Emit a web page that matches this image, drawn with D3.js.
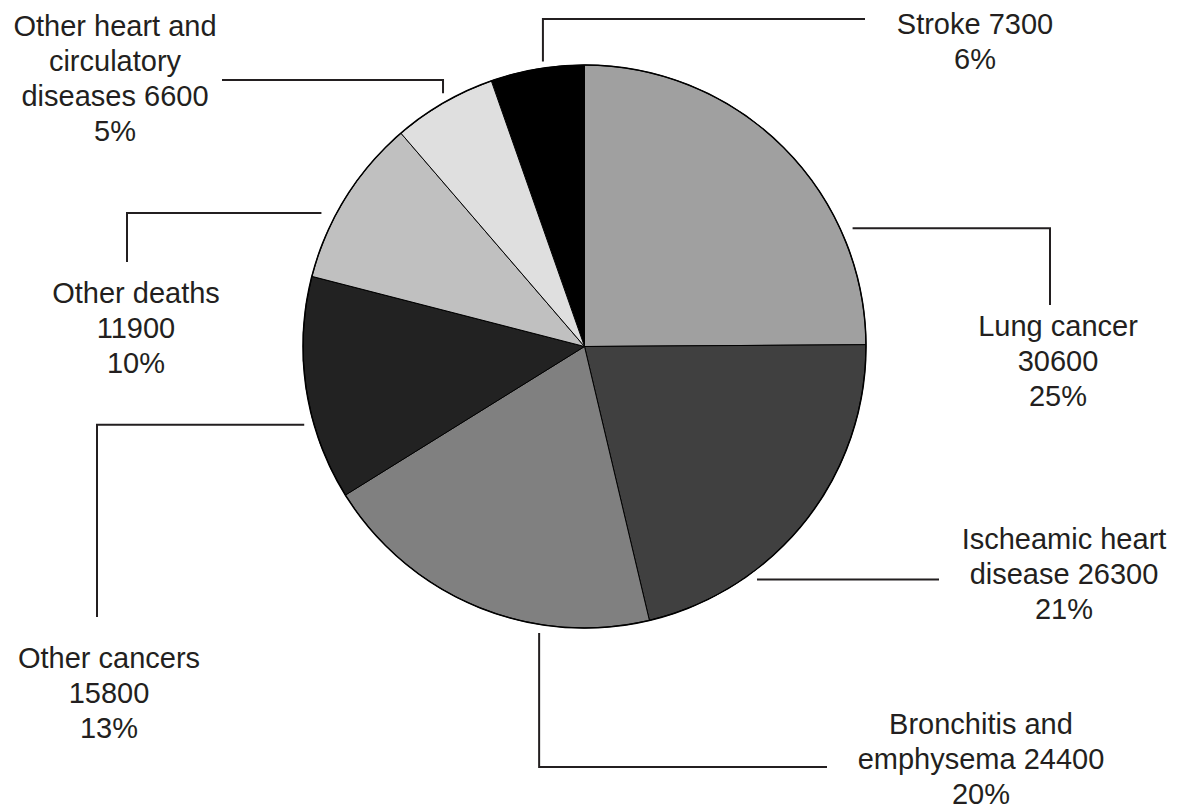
<!DOCTYPE html>
<html>
<head>
<meta charset="utf-8">
<script src="https://cdn.jsdelivr.net/npm/d3@7"></script>
<style>
  html, body { margin: 0; padding: 0; background: #ffffff; }
  svg { display: block; }
  text { font-family: "Liberation Sans", Arial, Helvetica, sans-serif; }
</style>
</head>
<body>
<svg id="chart" width="1180" height="810"></svg>
<script>
// ---- data ----
const categories = [
  "Lung cancer",
  "Ischeamic heart disease",
  "Bronchitis and emphysema",
  "Other cancers",
  "Other deaths",
  "Other heart and circulatory diseases",
  "Stroke"
];
const values = [30600, 26300, 24400, 15800, 11900, 6600, 7300];
// label text lines (the number and percentage are appended from the data)
const labelLines = [
  ["Lung cancer", "{v}", "{p}"],
  ["Ischeamic heart", "disease {v}", "{p}"],
  ["Bronchitis and", "emphysema {v}", "{p}"],
  ["Other cancers", "{v}", "{p}"],
  ["Other deaths", "{v}", "{p}"],
  ["Other heart and", "circulatory", "diseases {v}", "{p}"],
  ["Stroke {v}", "{p}"]
];
// slice fills in clockwise order from 12 o'clock
const sliceFills = ["#a0a0a0", "#404040", "#808080", "#222222", "#c0c0c0", "#dfdfdf", "#000000"];

// ---- layout (positions only) ----
const cx = 584.5, cy = 346.5, R = 281.5;
const FONT = 29, LINE = 35;
// leader: start angle (deg, clockwise from 12 o'clock), start radius,
// kind: 'v' = vertical then horizontal, 'h' = horizontal then vertical
const leaders = [
  { a: 66.2,  r: 293, kind: "h", turn: 1050, end: 305 },
  { a: 143.5, r: 290, kind: "h", turn: 939,  end: null },
  { a: 189.0, r: 290, kind: "v", turn: 767,  end: 827 },
  { a: 254.4, r: 291, kind: "h", turn: 97,   end: 617 },
  { a: 296.9, r: 295, kind: "h", turn: 127,  end: 262 },
  { a: 330.8, r: 290, kind: "v", turn: 80,   end: 222 },
  { a: 351.7, r: 288, kind: "v", turn: 19,   end: 865 }
];
const labelPos = [
  { x: 1058, y: 336 },
  { x: 1064, y: 549 },
  { x: 981,  y: 734 },
  { x: 109,  y: 668 },
  { x: 136,  y: 303 },
  { x: 115,  y: 36 },
  { x: 975,  y: 34 }
];

const total = d3.sum(values);
const fmtPct = v => Math.round(v / total * 100) + "%";

const svg = d3.select("#chart");
const g = svg.append("g").attr("transform", `translate(${cx},${cy})`);

const pie = d3.pie().value(d => d);   // default: slices ordered by descending value
const arcs = pie(values);
const order = arcs.map((a, i) => i).sort((i, j) => arcs[i].startAngle - arcs[j].startAngle);
const rank = new Array(values.length);
order.forEach((idx, k) => rank[idx] = k);

const arcGen = d3.arc().innerRadius(0).outerRadius(R);

g.selectAll("path.slice")
  .data(arcs)
  .join("path")
  .attr("class", "slice")
  .attr("d", arcGen)
  .attr("fill", (d, i) => sliceFills[rank[i]])
  .attr("stroke", "#000")
  .attr("stroke-width", 1)
  .attr("stroke-linejoin", "round");

g.append("circle")
  .attr("r", R)
  .attr("fill", "none")
  .attr("stroke", "#000")
  .attr("stroke-width", 1.5);

// leader lines
const lineGen = d3.line();
leaders.forEach((L, i) => {
  const p = d3.pointRadial(L.a * Math.PI / 180, L.r);
  const sx = cx + p[0], sy = cy + p[1];
  let pts;
  if (L.kind === "h") {
    pts = [[sx, sy], [L.turn, sy]];
    if (L.end !== null) pts.push([L.turn, L.end]);
  } else {
    pts = [[sx, sy], [sx, L.turn], [L.end, L.turn]];
  }
  svg.append("path")
    .attr("d", lineGen(pts))
    .attr("fill", "none")
    .attr("stroke", "#231f20")
    .attr("stroke-width", 2);
});

// labels
labelLines.forEach((lines, i) => {
  const t = svg.append("text")
    .attr("x", labelPos[i].x)
    .attr("y", labelPos[i].y)
    .attr("text-anchor", "middle")
    .attr("font-size", FONT)
    .attr("fill", "#231f20");
  lines.forEach((ln, k) => {
    t.append("tspan")
      .attr("x", labelPos[i].x)
      .attr("y", labelPos[i].y + k * LINE)
      .text(ln.replace("{v}", values[i]).replace("{p}", fmtPct(values[i])));
  });
});
</script>
</body>
</html>
